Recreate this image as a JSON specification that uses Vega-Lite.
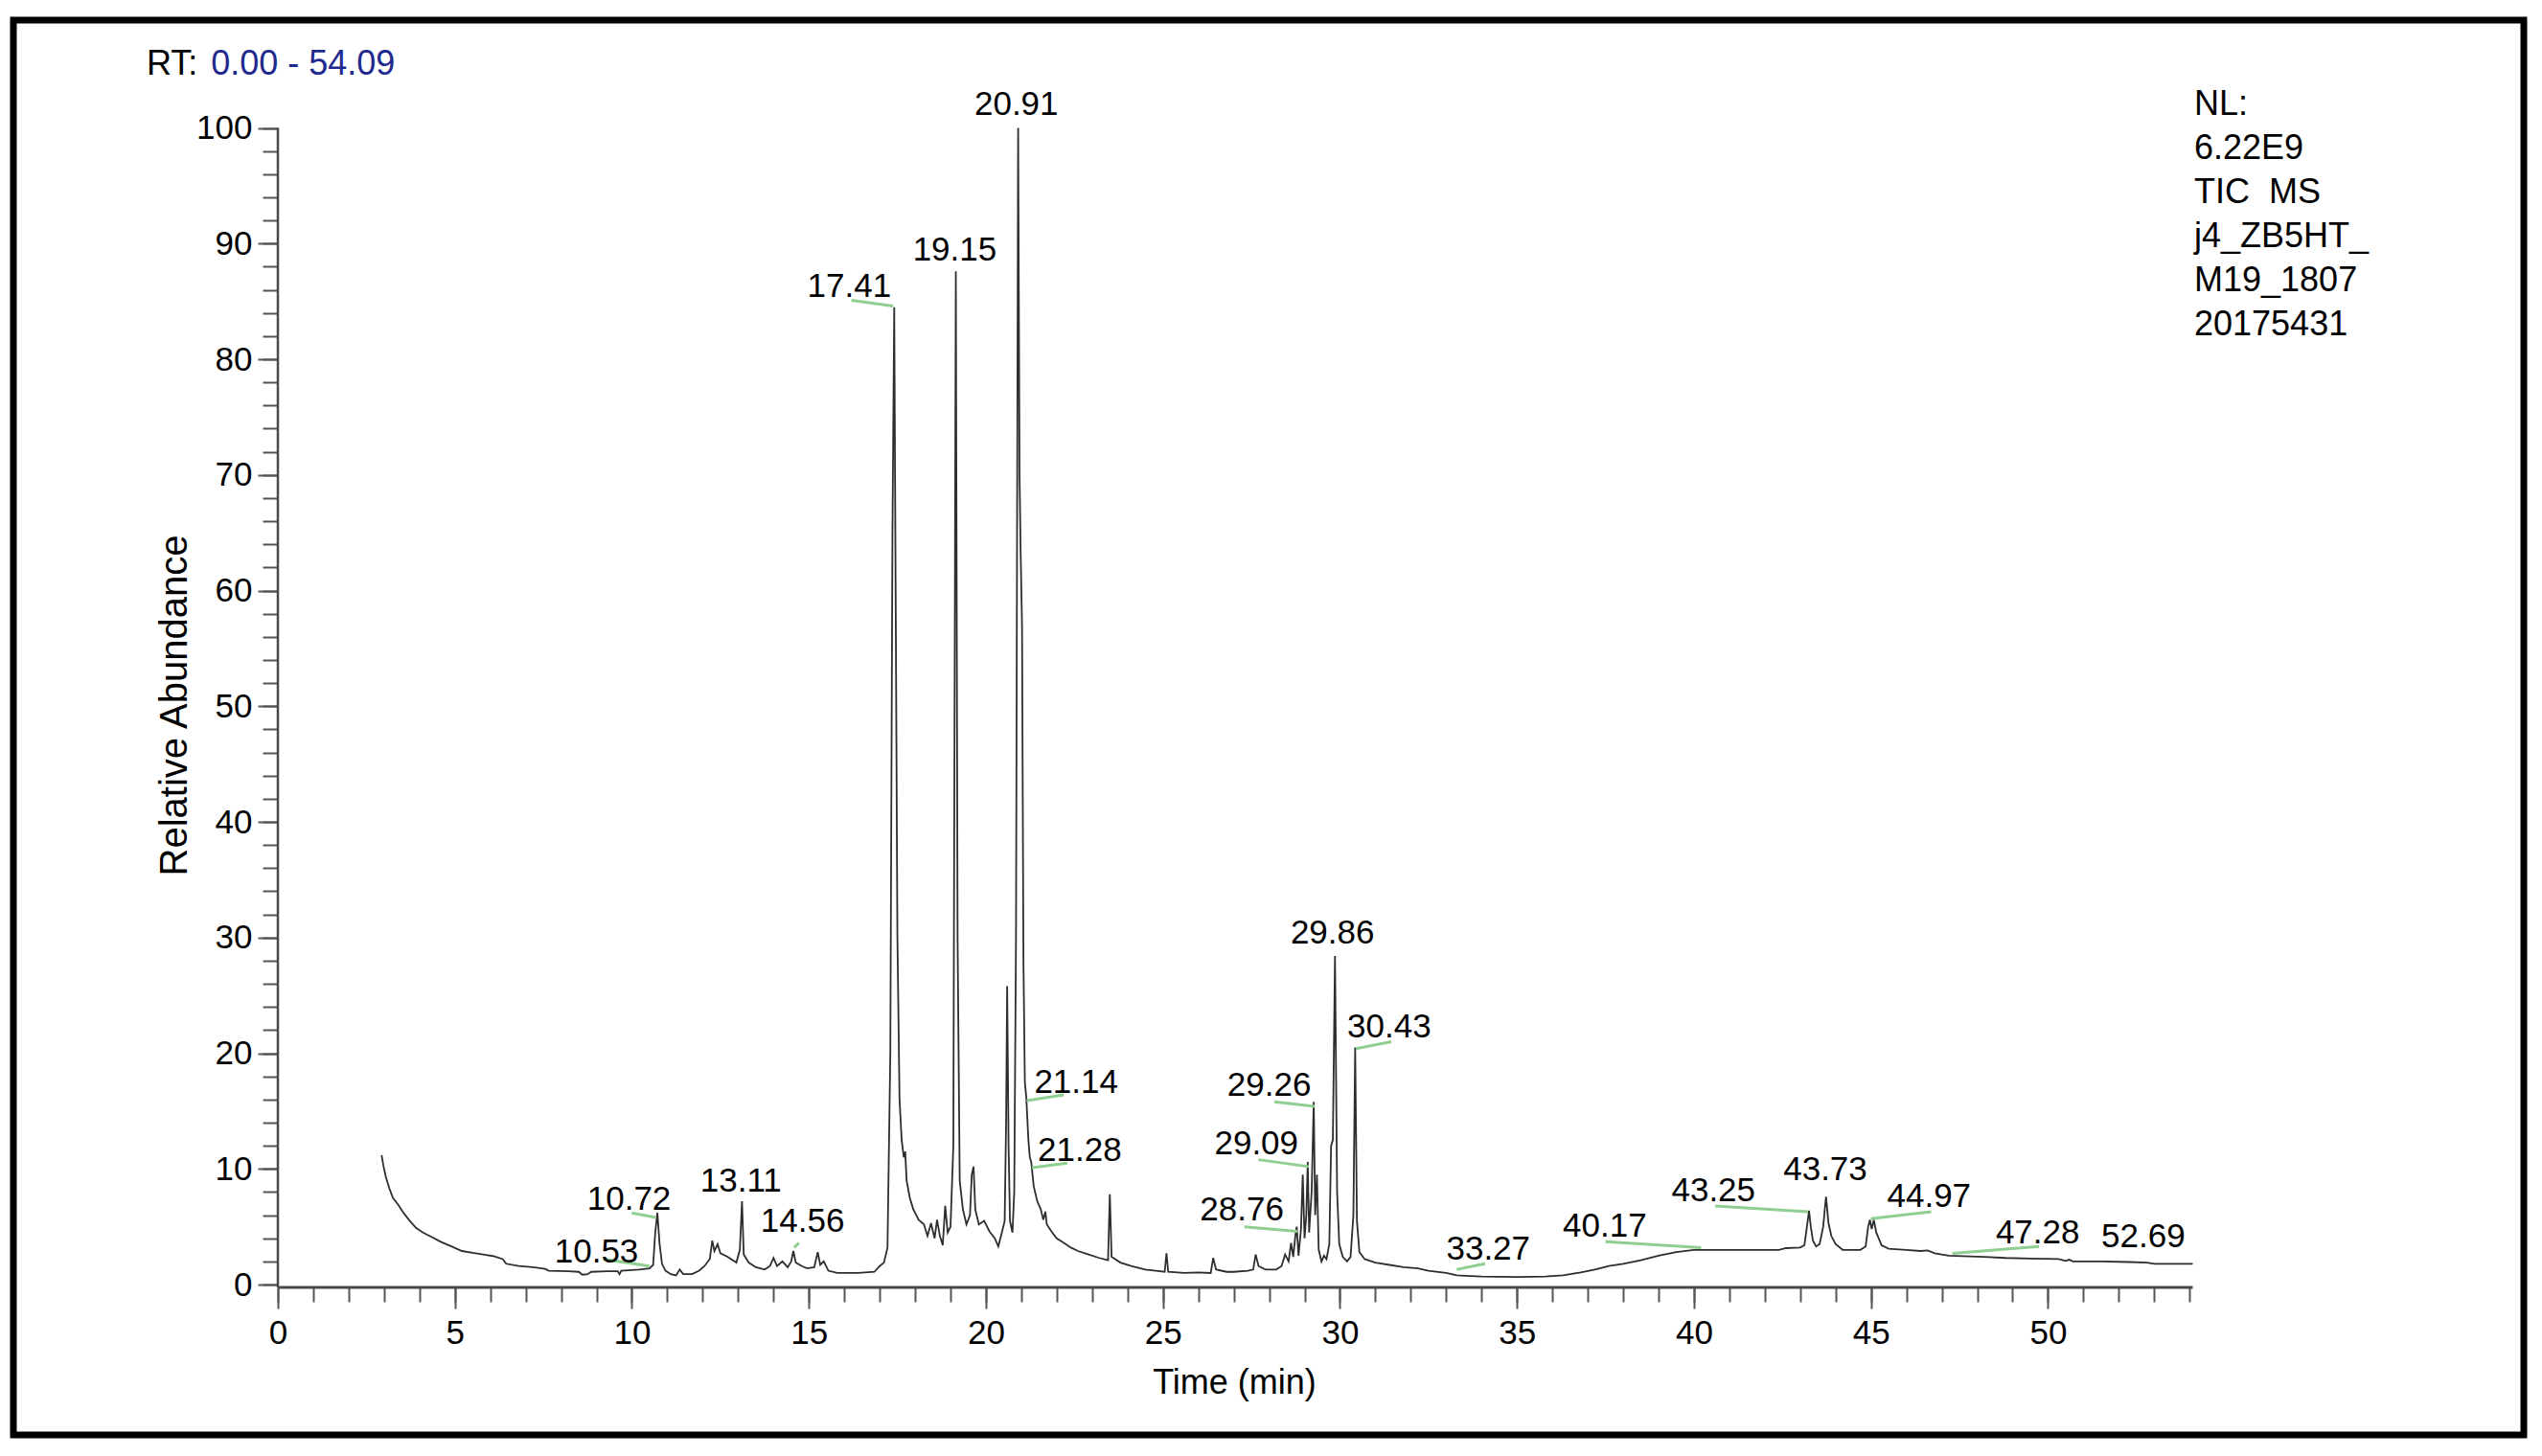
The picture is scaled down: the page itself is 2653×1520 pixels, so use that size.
{
  "$schema": "https://vega.github.io/schema/vega-lite/v6.json",
  "width": 2620,
  "height": 1477,
  "autosize": {"type": "none"},
  "padding": {"left": 14, "top": 21, "right": 19, "bottom": 22},
  "background": "white",
  "config": {"view": {"stroke": "#000000", "strokeWidth": 7}},
  "datasets": {
    "trace": [
      {"time": 2.93, "abundance": 11.2}, {"time": 2.98, "abundance": 10.3}, {"time": 3.05, "abundance": 9.3}, {"time": 3.15, "abundance": 8.3},
      {"time": 3.25, "abundance": 7.5}, {"time": 3.4, "abundance": 6.9}, {"time": 3.55, "abundance": 6.2}, {"time": 3.7, "abundance": 5.6},
      {"time": 3.9, "abundance": 4.9}, {"time": 4.1, "abundance": 4.5}, {"time": 4.35, "abundance": 4.1}, {"time": 4.6, "abundance": 3.7},
      {"time": 4.9, "abundance": 3.3}, {"time": 5.2, "abundance": 2.9}, {"time": 5.5, "abundance": 2.75}, {"time": 5.8, "abundance": 2.6},
      {"time": 6.1, "abundance": 2.45}, {"time": 6.35, "abundance": 2.2}, {"time": 6.45, "abundance": 1.8}, {"time": 6.8, "abundance": 1.6},
      {"time": 7.2, "abundance": 1.5}, {"time": 7.55, "abundance": 1.35}, {"time": 7.65, "abundance": 1.2}, {"time": 8.2, "abundance": 1.15},
      {"time": 8.5, "abundance": 1.1}, {"time": 8.6, "abundance": 0.85}, {"time": 8.75, "abundance": 0.9}, {"time": 8.85, "abundance": 1.1},
      {"time": 9.3, "abundance": 1.15}, {"time": 9.6, "abundance": 1.15}, {"time": 9.65, "abundance": 0.9}, {"time": 9.7, "abundance": 1.2},
      {"time": 10.2, "abundance": 1.3}, {"time": 10.5, "abundance": 1.4}, {"time": 10.6, "abundance": 1.7}, {"time": 10.66, "abundance": 4.5},
      {"time": 10.72, "abundance": 6.2}, {"time": 10.78, "abundance": 3.6}, {"time": 10.85, "abundance": 1.8}, {"time": 10.95, "abundance": 1.2},
      {"time": 11.1, "abundance": 0.9}, {"time": 11.25, "abundance": 0.8}, {"time": 11.35, "abundance": 1.3}, {"time": 11.45, "abundance": 0.9},
      {"time": 11.7, "abundance": 0.9}, {"time": 11.9, "abundance": 1.2}, {"time": 12.05, "abundance": 1.6}, {"time": 12.2, "abundance": 2.2},
      {"time": 12.27, "abundance": 3.8}, {"time": 12.33, "abundance": 2.9}, {"time": 12.42, "abundance": 3.5}, {"time": 12.5, "abundance": 2.7},
      {"time": 12.7, "abundance": 2.4}, {"time": 12.95, "abundance": 1.9}, {"time": 13.05, "abundance": 3.0}, {"time": 13.11, "abundance": 7.2},
      {"time": 13.16, "abundance": 2.6}, {"time": 13.3, "abundance": 1.9}, {"time": 13.5, "abundance": 1.5}, {"time": 13.75, "abundance": 1.3},
      {"time": 13.9, "abundance": 1.6}, {"time": 14.0, "abundance": 2.3}, {"time": 14.1, "abundance": 1.6}, {"time": 14.25, "abundance": 2.0},
      {"time": 14.4, "abundance": 1.5}, {"time": 14.5, "abundance": 2.0}, {"time": 14.56, "abundance": 2.9}, {"time": 14.63, "abundance": 1.9},
      {"time": 14.8, "abundance": 1.6}, {"time": 14.95, "abundance": 1.4}, {"time": 15.15, "abundance": 1.5}, {"time": 15.25, "abundance": 2.8},
      {"time": 15.32, "abundance": 1.7}, {"time": 15.42, "abundance": 2.0}, {"time": 15.55, "abundance": 1.2}, {"time": 15.8, "abundance": 1.0},
      {"time": 16.4, "abundance": 1.0}, {"time": 16.85, "abundance": 1.1}, {"time": 17.0, "abundance": 1.6}, {"time": 17.12, "abundance": 1.9},
      {"time": 17.22, "abundance": 3.2}, {"time": 17.3, "abundance": 20}, {"time": 17.36, "abundance": 65}, {"time": 17.41, "abundance": 84.5},
      {"time": 17.45, "abundance": 60}, {"time": 17.5, "abundance": 30}, {"time": 17.56, "abundance": 16}, {"time": 17.62, "abundance": 12.5},
      {"time": 17.68, "abundance": 11.0}, {"time": 17.72, "abundance": 11.5}, {"time": 17.76, "abundance": 9.0}, {"time": 17.85, "abundance": 7.5},
      {"time": 17.95, "abundance": 6.5}, {"time": 18.1, "abundance": 5.6}, {"time": 18.25, "abundance": 5.2}, {"time": 18.35, "abundance": 4.2},
      {"time": 18.45, "abundance": 5.3}, {"time": 18.55, "abundance": 4.0}, {"time": 18.62, "abundance": 5.6}, {"time": 18.7, "abundance": 4.2},
      {"time": 18.78, "abundance": 3.4}, {"time": 18.85, "abundance": 6.8}, {"time": 18.92, "abundance": 4.5}, {"time": 19.0, "abundance": 5.0},
      {"time": 19.08, "abundance": 12}, {"time": 19.15, "abundance": 87.6}, {"time": 19.2, "abundance": 30}, {"time": 19.26, "abundance": 9},
      {"time": 19.35, "abundance": 6.5}, {"time": 19.45, "abundance": 5.2}, {"time": 19.55, "abundance": 6.0}, {"time": 19.6, "abundance": 9.5},
      {"time": 19.65, "abundance": 10.2}, {"time": 19.7, "abundance": 6.5}, {"time": 19.8, "abundance": 5.2}, {"time": 19.95, "abundance": 5.5},
      {"time": 20.1, "abundance": 4.6}, {"time": 20.25, "abundance": 4.0}, {"time": 20.35, "abundance": 3.3}, {"time": 20.45, "abundance": 4.5},
      {"time": 20.53, "abundance": 5.5}, {"time": 20.57, "abundance": 14}, {"time": 20.6, "abundance": 25.8}, {"time": 20.64, "abundance": 12},
      {"time": 20.68, "abundance": 5.5}, {"time": 20.75, "abundance": 4.5}, {"time": 20.8, "abundance": 8}, {"time": 20.85, "abundance": 30},
      {"time": 20.91, "abundance": 100}, {"time": 20.95, "abundance": 70}, {"time": 20.98, "abundance": 63.5}, {"time": 21.02, "abundance": 57},
      {"time": 21.06, "abundance": 28}, {"time": 21.1, "abundance": 17.5}, {"time": 21.14, "abundance": 16.2}, {"time": 21.2, "abundance": 12.5},
      {"time": 21.24, "abundance": 11}, {"time": 21.28, "abundance": 10.6}, {"time": 21.35, "abundance": 8.5}, {"time": 21.45, "abundance": 7.2},
      {"time": 21.55, "abundance": 6.5}, {"time": 21.62, "abundance": 5.6}, {"time": 21.68, "abundance": 6.3}, {"time": 21.72, "abundance": 5.2},
      {"time": 21.85, "abundance": 4.6}, {"time": 22.0, "abundance": 4.0}, {"time": 22.2, "abundance": 3.6}, {"time": 22.4, "abundance": 3.2},
      {"time": 22.6, "abundance": 2.9}, {"time": 22.9, "abundance": 2.6}, {"time": 23.2, "abundance": 2.3}, {"time": 23.45, "abundance": 2.1},
      {"time": 23.5, "abundance": 7.8}, {"time": 23.55, "abundance": 2.4}, {"time": 23.8, "abundance": 1.9}, {"time": 24.1, "abundance": 1.6},
      {"time": 24.5, "abundance": 1.3}, {"time": 24.8, "abundance": 1.2}, {"time": 25.05, "abundance": 1.1}, {"time": 25.1, "abundance": 2.7},
      {"time": 25.15, "abundance": 1.1}, {"time": 25.6, "abundance": 1.0}, {"time": 26.0, "abundance": 1.05}, {"time": 26.35, "abundance": 1.0},
      {"time": 26.42, "abundance": 2.3}, {"time": 26.5, "abundance": 1.3}, {"time": 26.8, "abundance": 1.1}, {"time": 27.0, "abundance": 1.1},
      {"time": 27.4, "abundance": 1.2}, {"time": 27.55, "abundance": 1.3}, {"time": 27.62, "abundance": 2.6}, {"time": 27.7, "abundance": 1.6},
      {"time": 27.9, "abundance": 1.3}, {"time": 28.2, "abundance": 1.3}, {"time": 28.35, "abundance": 1.6}, {"time": 28.45, "abundance": 2.6},
      {"time": 28.55, "abundance": 2.0}, {"time": 28.62, "abundance": 3.6}, {"time": 28.68, "abundance": 2.4}, {"time": 28.74, "abundance": 4.2},
      {"time": 28.78, "abundance": 5.0}, {"time": 28.83, "abundance": 2.5}, {"time": 28.9, "abundance": 4.8}, {"time": 28.95, "abundance": 9.5},
      {"time": 29.0, "abundance": 4.0}, {"time": 29.05, "abundance": 6.0}, {"time": 29.09, "abundance": 10.6}, {"time": 29.13, "abundance": 4.5},
      {"time": 29.2, "abundance": 8.0}, {"time": 29.26, "abundance": 15.8}, {"time": 29.3, "abundance": 6.0}, {"time": 29.35, "abundance": 9.5},
      {"time": 29.4, "abundance": 3.0}, {"time": 29.48, "abundance": 2.0}, {"time": 29.55, "abundance": 2.5}, {"time": 29.62, "abundance": 2.2},
      {"time": 29.7, "abundance": 3.5}, {"time": 29.75, "abundance": 12}, {"time": 29.8, "abundance": 12.5}, {"time": 29.86, "abundance": 28.4},
      {"time": 29.92, "abundance": 8}, {"time": 29.98, "abundance": 3.5}, {"time": 30.08, "abundance": 2.4}, {"time": 30.2, "abundance": 2.0},
      {"time": 30.3, "abundance": 2.4}, {"time": 30.38, "abundance": 6}, {"time": 30.43, "abundance": 20.5}, {"time": 30.48, "abundance": 5.5},
      {"time": 30.55, "abundance": 2.8}, {"time": 30.7, "abundance": 2.2}, {"time": 31.0, "abundance": 1.9}, {"time": 31.4, "abundance": 1.7},
      {"time": 31.8, "abundance": 1.5}, {"time": 32.2, "abundance": 1.4}, {"time": 32.5, "abundance": 1.2}, {"time": 33.0, "abundance": 1.0},
      {"time": 33.3, "abundance": 0.8}, {"time": 34.0, "abundance": 0.7}, {"time": 35.0, "abundance": 0.65}, {"time": 35.8, "abundance": 0.7},
      {"time": 36.3, "abundance": 0.8}, {"time": 36.8, "abundance": 1.05}, {"time": 37.2, "abundance": 1.3}, {"time": 37.6, "abundance": 1.6},
      {"time": 38.0, "abundance": 1.8}, {"time": 38.5, "abundance": 2.1}, {"time": 39.0, "abundance": 2.5}, {"time": 39.5, "abundance": 2.8},
      {"time": 40.0, "abundance": 3.0}, {"time": 40.5, "abundance": 3.0}, {"time": 41.5, "abundance": 3.0}, {"time": 42.0, "abundance": 3.0},
      {"time": 42.4, "abundance": 3.0}, {"time": 42.6, "abundance": 3.15}, {"time": 43.0, "abundance": 3.2}, {"time": 43.12, "abundance": 3.4},
      {"time": 43.2, "abundance": 5.2}, {"time": 43.25, "abundance": 6.4}, {"time": 43.3, "abundance": 5.0}, {"time": 43.36, "abundance": 3.8},
      {"time": 43.45, "abundance": 3.3}, {"time": 43.55, "abundance": 3.5}, {"time": 43.65, "abundance": 5.0}, {"time": 43.73, "abundance": 7.6},
      {"time": 43.8, "abundance": 5.3}, {"time": 43.88, "abundance": 4.2}, {"time": 44.0, "abundance": 3.5}, {"time": 44.2, "abundance": 3.0},
      {"time": 44.7, "abundance": 3.0}, {"time": 44.85, "abundance": 3.3}, {"time": 44.92, "abundance": 5.0}, {"time": 44.97, "abundance": 5.6},
      {"time": 45.02, "abundance": 4.8}, {"time": 45.08, "abundance": 5.6}, {"time": 45.15, "abundance": 4.5}, {"time": 45.3, "abundance": 3.4},
      {"time": 45.5, "abundance": 3.1}, {"time": 46.0, "abundance": 3.0}, {"time": 46.4, "abundance": 2.9}, {"time": 46.6, "abundance": 2.95},
      {"time": 46.8, "abundance": 2.7}, {"time": 47.2, "abundance": 2.5}, {"time": 47.6, "abundance": 2.45}, {"time": 48.2, "abundance": 2.4},
      {"time": 48.8, "abundance": 2.3}, {"time": 49.5, "abundance": 2.25}, {"time": 50.3, "abundance": 2.2}, {"time": 50.5, "abundance": 2.05},
      {"time": 50.6, "abundance": 2.15}, {"time": 50.7, "abundance": 2.0}, {"time": 51.5, "abundance": 2.0}, {"time": 52.3, "abundance": 1.95},
      {"time": 52.8, "abundance": 1.9}, {"time": 53.0, "abundance": 1.8}, {"time": 53.5, "abundance": 1.8}, {"time": 54.09, "abundance": 1.8}
    ],
    "peaks": [
      {"label": "10.53", "labelTime": 9.0, "labelAbundance": 1.9, "leaderTime1": 9.2, "leaderAbundance1": 2.2, "leaderTime2": 10.5, "leaderAbundance2": 1.6},
      {"label": "10.72", "labelTime": 9.92, "labelAbundance": 6.5, "leaderTime1": 10.0, "leaderAbundance1": 6.2, "leaderTime2": 10.68, "leaderAbundance2": 5.8},
      {"label": "13.11", "labelTime": 13.08, "labelAbundance": 8.06, "leaderTime1": null, "leaderAbundance1": null, "leaderTime2": null, "leaderAbundance2": null},
      {"label": "14.56", "labelTime": 14.82, "labelAbundance": 4.57, "leaderTime1": 14.58, "leaderAbundance1": 3.2, "leaderTime2": 14.72, "leaderAbundance2": 3.6},
      {"label": "17.41", "labelTime": 16.14, "labelAbundance": 85.4, "leaderTime1": 16.2, "leaderAbundance1": 85.1, "leaderTime2": 17.38, "leaderAbundance2": 84.6},
      {"label": "19.15", "labelTime": 19.12, "labelAbundance": 88.5, "leaderTime1": null, "leaderAbundance1": null, "leaderTime2": null, "leaderAbundance2": null},
      {"label": "20.91", "labelTime": 20.86, "labelAbundance": 101.1, "leaderTime1": null, "leaderAbundance1": null, "leaderTime2": null, "leaderAbundance2": null},
      {"label": "21.14", "labelTime": 22.55, "labelAbundance": 16.6, "leaderTime1": 21.15, "leaderAbundance1": 15.9, "leaderTime2": 22.2, "leaderAbundance2": 16.4},
      {"label": "21.28", "labelTime": 22.65, "labelAbundance": 10.7, "leaderTime1": 21.3, "leaderAbundance1": 10.1, "leaderTime2": 22.3, "leaderAbundance2": 10.5},
      {"label": "28.76", "labelTime": 27.23, "labelAbundance": 5.55, "leaderTime1": 27.3, "leaderAbundance1": 5.0, "leaderTime2": 28.8, "leaderAbundance2": 4.6},
      {"label": "29.09", "labelTime": 27.64, "labelAbundance": 11.3, "leaderTime1": 27.7, "leaderAbundance1": 10.8, "leaderTime2": 29.12, "leaderAbundance2": 10.2},
      {"label": "29.26", "labelTime": 28.0, "labelAbundance": 16.3, "leaderTime1": 28.15, "leaderAbundance1": 15.8, "leaderTime2": 29.28, "leaderAbundance2": 15.4},
      {"label": "29.86", "labelTime": 29.79, "labelAbundance": 29.5, "leaderTime1": null, "leaderAbundance1": null, "leaderTime2": null, "leaderAbundance2": null},
      {"label": "30.43", "labelTime": 31.39, "labelAbundance": 21.4, "leaderTime1": 30.45, "leaderAbundance1": 20.4, "leaderTime2": 31.45, "leaderAbundance2": 21.0},
      {"label": "33.27", "labelTime": 34.19, "labelAbundance": 2.19, "leaderTime1": 33.3, "leaderAbundance1": 1.3, "leaderTime2": 34.1, "leaderAbundance2": 1.8},
      {"label": "40.17", "labelTime": 37.48, "labelAbundance": 4.15, "leaderTime1": 37.5, "leaderAbundance1": 3.7, "leaderTime2": 40.2, "leaderAbundance2": 3.2},
      {"label": "43.25", "labelTime": 40.55, "labelAbundance": 7.2, "leaderTime1": 40.6, "leaderAbundance1": 6.8, "leaderTime2": 43.22, "leaderAbundance2": 6.3},
      {"label": "43.73", "labelTime": 43.71, "labelAbundance": 9.05, "leaderTime1": null, "leaderAbundance1": null, "leaderTime2": null, "leaderAbundance2": null},
      {"label": "44.97", "labelTime": 46.64, "labelAbundance": 6.67, "leaderTime1": 45.0, "leaderAbundance1": 5.7, "leaderTime2": 46.7, "leaderAbundance2": 6.3},
      {"label": "47.28", "labelTime": 49.71, "labelAbundance": 3.59, "leaderTime1": 47.3, "leaderAbundance1": 2.7, "leaderTime2": 49.75, "leaderAbundance2": 3.3},
      {"label": "52.69", "labelTime": 52.69, "labelAbundance": 3.2, "leaderTime1": null, "leaderAbundance1": null, "leaderTime2": null, "leaderAbundance2": null}
    ]
  },
  "resolve": {"axis": {"x": "independent", "y": "independent"}},
  "layer": [
    {
      "data": {"name": "trace"},
      "mark": {"type": "line", "color": "#2e2e2e", "strokeWidth": 1.8, "clip": true},
      "encoding": {
        "x": {
          "field": "time", "type": "quantitative",
          "scale": {"domain": [-7.47, 63.44], "nice": false, "zero": false},
          "axis": {
            "orient": "bottom", "offset": -154, "domain": false, "grid": false,
            "values": [0, 5, 10, 15, 20, 25, 30, 35, 40, 45, 50],
            "tickSize": 22, "tickColor": "#555555", "tickWidth": 2,
            "labelFont": "Liberation Sans", "labelFontSize": 35, "labelColor": "#000000", "labelPadding": 8,
            "title": "Time (min)", "titleFont": "Liberation Sans", "titleFontSize": 36, "titleFontWeight": "normal", "titleColor": "#000000",
            "titleX": 1274, "titleY": 110, "titleBaseline": "alphabetic", "titleAlign": "center", "titleAnchor": null
          }
        },
        "y": {
          "field": "abundance", "type": "quantitative",
          "scale": {"domain": [-13.0, 109.32], "nice": false, "zero": false},
          "axis": {
            "orient": "left", "offset": -276, "domain": false, "grid": false,
            "values": [0, 10, 20, 30, 40, 50, 60, 70, 80, 90, 100],
            "tickSize": 21, "tickColor": "#555555", "tickWidth": 2,
            "labelFont": "Liberation Sans", "labelFontSize": 35, "labelColor": "#000000", "labelPadding": 6,
            "title": "Relative Abundance", "titleFont": "Liberation Sans", "titleFontSize": 40, "titleFontWeight": "normal", "titleColor": "#000000",
            "titleX": -108, "titleY": 715, "titleBaseline": "middle", "titleAngle": 270, "titleAlign": "center", "titleAnchor": null
          }
        }
      }
    },
    {
      "data": {"name": "peaks"},
      "transform": [{"filter": "datum.leaderTime1 != null"}],
      "mark": {"type": "rule", "color": "#8fcf8f", "strokeWidth": 3},
      "encoding": {
        "x": {
          "field": "leaderTime1", "type": "quantitative",
          "scale": {"domain": [-7.47, 63.44], "nice": false, "zero": false},
          "axis": {
            "orient": "bottom", "offset": -154, "domain": false, "grid": false, "labels": false, "title": null,
            "values": [0,1,2,3,4,5,6,7,8,9,10,11,12,13,14,15,16,17,18,19,20,21,22,23,24,25,26,27,28,29,30,31,32,33,34,35,36,37,38,39,40,41,42,43,44,45,46,47,48,49,50,51,52,53,54],
            "tickSize": 15, "tickColor": "#555555", "tickWidth": 2
          }
        },
        "x2": {"field": "leaderTime2"},
        "y": {
          "field": "leaderAbundance1", "type": "quantitative",
          "scale": {"domain": [-13.0, 109.32], "nice": false, "zero": false},
          "axis": {
            "orient": "left", "offset": -276, "domain": false, "grid": false, "labels": false, "title": null,
            "values": [0,2,4,6,8,10,12,14,16,18,20,22,24,26,28,30,32,34,36,38,40,42,44,46,48,50,52,54,56,58,60,62,64,66,68,70,72,74,76,78,80,82,84,86,88,90,92,94,96,98,100],
            "tickSize": 16, "tickColor": "#555555", "tickWidth": 2
          }
        },
        "y2": {"field": "leaderAbundance2"}
      }
    },
    {
      "data": {"values": [{}]},
      "mark": {"type": "rule", "color": "#4a4a4a", "strokeWidth": 3},
      "encoding": {
        "x": {"datum": 0, "type": "quantitative", "axis": null},
        "x2": {"datum": 54.09},
        "y": {"datum": -0.25, "type": "quantitative", "axis": null}
      }
    },
    {
      "data": {"values": [{}]},
      "mark": {"type": "rule", "color": "#4a4a4a", "strokeWidth": 2.5},
      "encoding": {
        "x": {"datum": 0, "type": "quantitative", "axis": null},
        "y": {"datum": -0.25, "type": "quantitative", "axis": null},
        "y2": {"datum": 100}
      }
    },
    {
      "data": {"name": "peaks"},
      "mark": {"type": "text", "font": "Liberation Sans", "fontSize": 35, "color": "#000000", "align": "center", "baseline": "alphabetic"},
      "encoding": {
        "x": {"field": "labelTime", "type": "quantitative", "axis": null},
        "y": {"field": "labelAbundance", "type": "quantitative", "axis": null},
        "text": {"field": "label"}
      }
    },
    {
      "data": {"values": [{}]},
      "mark": {"type": "text", "font": "Liberation Sans", "fontSize": 36, "color": "#000000", "align": "left", "baseline": "alphabetic", "text": "RT:"},
      "encoding": {
        "x": {"datum": -3.71, "type": "quantitative", "axis": null},
        "y": {"datum": 104.6, "type": "quantitative", "axis": null}
      }
    },
    {
      "data": {"values": [{}]},
      "mark": {"type": "text", "font": "Liberation Sans", "fontSize": 36, "color": "#1f2a8f", "align": "left", "baseline": "alphabetic", "text": "0.00 - 54.09"},
      "encoding": {
        "x": {"datum": -1.89, "type": "quantitative", "axis": null},
        "y": {"datum": 104.6, "type": "quantitative", "axis": null}
      }
    },
    {
      "data": {"values": [{}]},
      "mark": {"type": "text", "font": "Liberation Sans", "fontSize": 36, "color": "#000000", "align": "left", "baseline": "alphabetic", "lineHeight": 46,
        "text": ["NL:", "6.22E9", "TIC\u00a0 MS", "j4_ZB5HT_", "M19_1807", "20175431"]},
      "encoding": {
        "x": {"datum": 54.13, "type": "quantitative", "axis": null},
        "y": {"datum": 101.1, "type": "quantitative", "axis": null}
      }
    }
  ]
}
